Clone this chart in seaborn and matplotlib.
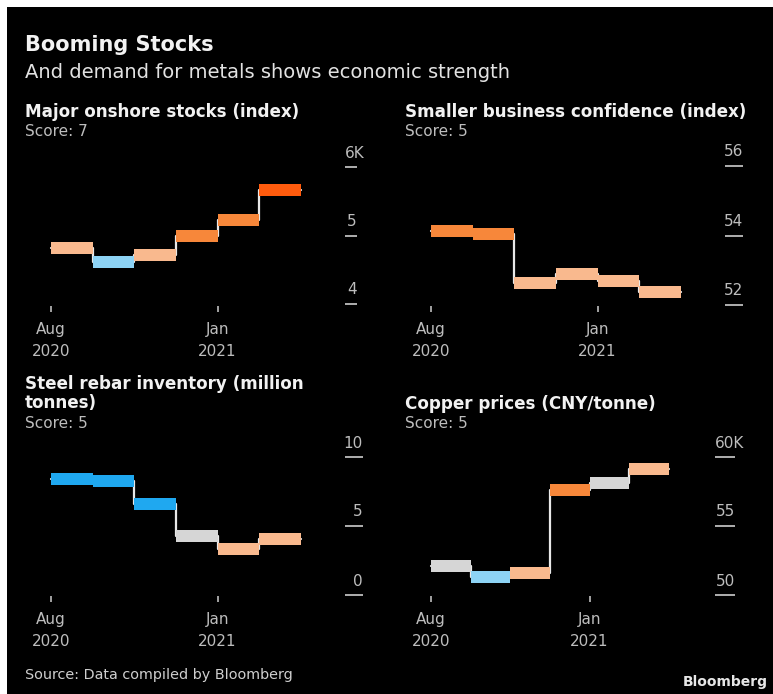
import numpy as np
import pandas as pd
import matplotlib
matplotlib.use("Agg")
import matplotlib.pyplot as plt
import matplotlib.transforms as mtransforms
from matplotlib.patches import Rectangle
import seaborn as sns

# ---- data -------------------------------------------------------------
# period boundaries, in months since the start of August 2020
period_edges = [0.0, 1.25, 2.5, 3.75, 5.0, 6.25, 7.5]

stocks = [4.82, 4.61, 4.71, 4.99, 5.23, 5.67]          # thousands
confidence = [54.14, 54.03, 52.62, 52.88, 52.68, 52.36]
rebar = [8.40, 8.26, 6.60, 4.28, 3.33, 4.06]            # million tonnes
copper = [52.1, 51.3, 51.6, 57.6, 58.1, 59.1]           # thousand CNY/tonne

stocks_level = ["mild", "soft", "mild", "firm", "firm", "strong"]
confidence_level = ["firm", "firm", "mild", "mild", "mild", "mild"]
rebar_level = ["weak", "weak", "weak", "neutral", "mild", "mild"]
copper_level = ["neutral", "soft", "mild", "firm", "neutral", "mild"]

x_ticks = [0, 5]
x_ticklabels = ["Aug\n2020", "Jan\n2021"]

stocks_ticks = [4, 5, 6]
stocks_ticklabels = ["4", "5", "6K"]
confidence_ticks = [52, 54, 56]
confidence_ticklabels = ["52", "54", "56"]
rebar_ticks = [0, 5, 10]
rebar_ticklabels = ["0", "5", "10"]
copper_ticks = [50, 55, 60]
copper_ticklabels = ["50", "55", "60K"]

titles = [
    ["Major onshore stocks (index)"],
    ["Smaller business confidence (index)"],
    ["Steel rebar inventory (million", "tonnes)"],
    ["Copper prices (CNY/tonne)"],
]
scores = ["Score: 7", "Score: 5", "Score: 5", "Score: 5"]

# ---- style ------------------------------------------------------------
PALETTE = {
    "strong": "#ff5b0d",
    "firm": "#f7873a",
    "mild": "#f9b98e",
    "neutral": "#d6d6d6",
    "soft": "#8dd3f5",
    "weak": "#1fa8f0",
}
TICK_GREY = "#bdbdbd"

sns.set_theme(style="dark", rc={
    "axes.facecolor": "none",
    "figure.facecolor": "white",
    "axes.edgecolor": "none",
    "axes.grid": False,
})
plt.rcParams["font.family"] = ["DejaVu Sans"]

W, H, DPI = 773, 694, 100
fig = plt.figure(figsize=(W / DPI, H / DPI), dpi=DPI)

# black card with a thin white margin at the top and left
fig.patches.append(Rectangle((7 / W, 0), 1 - 7 / W, 1 - 7 / H,
                             transform=fig.transFigure, facecolor="black",
                             edgecolor="none", zorder=-10))


def fx(px):
    return px / W


def fy(py):
    return 1 - py / H


PT = 72 / DPI  # points per pixel


def panel(box, x0, ppm, ycal, values, levels, yticks, yticklabels, dash):
    left, right, top, bottom = box
    ax = fig.add_axes([fx(left), fy(bottom), fx(right) - fx(left), fy(top) - fy(bottom)])
    ax.set_zorder(1)
    (va_, pa), (vb, pb) = ycal
    s = (pa - pb) / (vb - va_)

    # thin connector drawn as a step line, kept beneath the bars
    edge_vals = list(values) + [values[-1]]
    conn = pd.DataFrame({"x": period_edges, "v": edge_vals})
    n0 = len(ax.lines)
    sns.lineplot(data=conn, x="x", y="v", drawstyle="steps-post", color="#e8e8e8",
                 linewidth=1.6, estimator=None, sort=False, ax=ax)
    for ln in ax.lines[n0:]:
        ln.set_zorder(1)

    # thick coloured bars, one per period
    rows = []
    for i, (v, lv) in enumerate(zip(values, levels)):
        rows.append({"x": period_edges[i], "v": v, "seg": i, "level": lv})
        rows.append({"x": period_edges[i + 1], "v": v, "seg": i, "level": lv})
    segs = pd.DataFrame(rows)
    n1 = len(ax.lines)
    sns.lineplot(data=segs, x="x", y="v", units="seg", hue="level", palette=PALETTE,
                 estimator=None, linewidth=12 * PT, legend=False, ax=ax,
                 solid_capstyle="butt")
    for ln in ax.lines[n1:]:
        ln.set_zorder(3)

    ax.set_xlim((left - x0) / ppm, (right - x0) / ppm)
    ax.set_ylim(va_ - (bottom - pa) / s, va_ + (pa - top) / s)
    ax.set_xlabel("")
    ax.set_ylabel("")
    ax.set_xticks(x_ticks)
    ax.set_xticklabels(x_ticklabels, color=TICK_GREY, fontsize=11, linespacing=1.6)
    ax.tick_params(axis="x", direction="out", length=6 * PT, width=1.2, color=TICK_GREY,
                   pad=7, bottom=True)

    ax.yaxis.tick_right()
    ax.set_yticks(yticks)
    ax.set_yticklabels([])
    ax.tick_params(axis="y", direction="out", length=dash * PT, width=1.3,
                   color=TICK_GREY, right=True, left=False, pad=0)
    for t, lab in zip(yticks, yticklabels):
        if lab.endswith("K"):
            dx, ha = 0, "left"
        else:
            dx, ha = dash, "right"
        tr = mtransforms.blended_transform_factory(ax.transAxes, ax.transData) + \
            mtransforms.ScaledTranslation(dx / DPI, 9.5 / DPI, fig.dpi_scale_trans)
        ax.text(1.0, t, lab, transform=tr, ha=ha, va="baseline", color=TICK_GREY,
                fontsize=11, clip_on=False)
    for sp in ax.spines.values():
        sp.set_visible(False)
    return ax


panel((25, 345, 150, 306), 51, 33.3, ((4, 304), (6, 167)), stocks, stocks_level,
      stocks_ticks, stocks_ticklabels, 12)
panel((405, 725, 150, 306), 431, 33.3, ((52, 305), (56, 166)), confidence, confidence_level,
      confidence_ticks, confidence_ticklabels, 18)
panel((25, 345, 440, 596), 51, 33.3, ((0, 595), (10, 457)), rebar, rebar_level,
      rebar_ticks, rebar_ticklabels, 18)
panel((405, 715, 440, 596), 431, 31.7, ((50, 595), (60, 457)), copper, copper_level,
      copper_ticks, copper_ticklabels, 20)

# ---- headline and panel titles -----------------------------------------
fig.text(fx(25), fy(45), "Booming Stocks", fontsize=15, fontweight="bold",
         color="#f2f2f2", va="center", ha="left")
fig.text(fx(25), fy(72), "And demand for metals shows economic strength", fontsize=14,
         color="#e2e2e2", va="center", ha="left")

title_pos = [(25, [112]), (405, [112]), (25, [384, 403]), (405, [404])]
score_pos = [(25, 131), (405, 131), (25, 423), (405, 424)]
for (tx, tys), lines in zip(title_pos, titles):
    for ty, line in zip(tys, lines):
        fig.text(fx(tx), fy(ty), line, fontsize=12.1, fontweight="bold", color="#f2f2f2",
                 va="center", ha="left")
for (sx, sy), s in zip(score_pos, scores):
    fig.text(fx(sx), fy(sy), s, fontsize=11, color="#bdbdbd", va="center", ha="left")

fig.text(fx(25), fy(675), "Source: Data compiled by Bloomberg", fontsize=10.4,
         color="#cfcfcf", va="center", ha="left")
fig.text(fx(768), fy(682), "Bloomberg", fontsize=10, fontweight="bold",
         color="#e6e6e6", va="center", ha="right")

fig.savefig("out.png", dpi=DPI, facecolor="white")
